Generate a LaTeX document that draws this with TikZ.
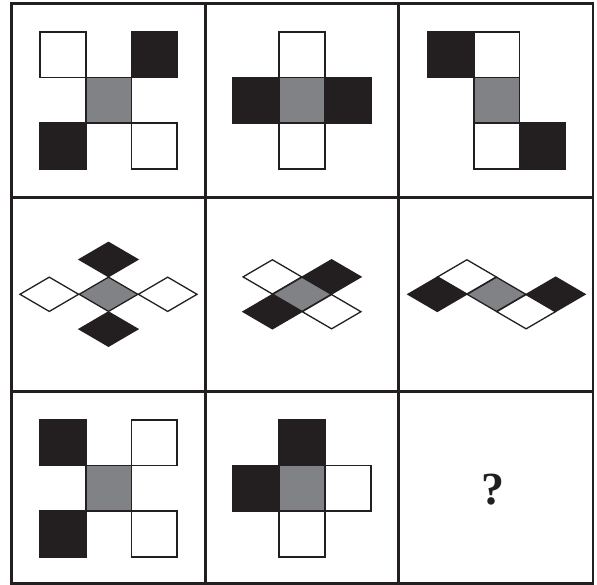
\documentclass[tikz,border=0pt]{standalone}
\usepackage{fontspec}
\setmainfont{Liberation Serif}
\usetikzlibrary{shapes.geometric}
\definecolor{inkdark}{HTML}{231F20}
\definecolor{inkgray}{HTML}{808285}
\begin{document}
\begin{tikzpicture}[x=1pt, y=-1pt,
    sq/.style={rectangle, draw=inkdark, line width=1.8pt, minimum size=45.8pt, inner sep=0pt},
    dia/.style={diamond, draw=inkdark, line width=1.3pt, minimum width=59.2pt,
                minimum height=34.8pt, inner sep=0pt},
    blk/.style={fill=inkdark}, wht/.style={fill=white}, gry/.style={fill=inkgray},
    gridline/.style={draw=inkdark, line width=2.8pt}]
  \useasboundingbox (0,0) rectangle (597,585);
  % grid
  \draw[gridline] (11.7,3.5) rectangle (593,583.5);
  \draw[gridline] (205.3,3.5) -- (205.3,583.5);
  \draw[gridline] (398.7,3.5) -- (398.7,583.5);
  \draw[gridline] (11.7,197.2) -- (593,197.2);
  \draw[gridline] (11.7,391.5) -- (593,391.5);
  % row 1
  \node[sq, wht] (a1tl) at (62.7,54.7)   {};
  \node[sq, blk] (a1tr) at (154.3,54.7)  {};
  \node[sq, gry] (a1c)  at (108.5,100.5) {};
  \node[sq, blk] (a1bl) at (62.7,146.3)  {};
  \node[sq, wht] (a1br) at (154.3,146.3) {};
  \node[sq, wht] (a2t)  at (302,54.7)    {};
  \node[sq, blk] (a2l)  at (256.2,100.5) {};
  \node[sq, gry] (a2c)  at (302,100.5)   {};
  \node[sq, blk] (a2r)  at (347.8,100.5) {};
  \node[sq, wht] (a2b)  at (302,146.3)   {};
  \node[sq, blk] (a3tl) at (450.7,54.7)  {};
  \node[sq, wht] (a3t)  at (496.5,54.7)  {};
  \node[sq, gry] (a3c)  at (496.5,100.5) {};
  \node[sq, wht] (a3b)  at (496.5,146.3) {};
  \node[sq, blk] (a3br) at (542.3,146.3) {};
  % row 2
  \node[dia, blk] (b1t) at (108.5,259.5) {};
  \node[dia, wht] (b1l) at (49.3,294.3)  {};
  \node[dia, gry] (b1c) at (108.5,294.3) {};
  \node[dia, wht] (b1r) at (167.7,294.3) {};
  \node[dia, blk] (b1b) at (108.5,329.1) {};
  \node[dia, wht] (b2ul) at (272.4,276.9) {};
  \node[dia, blk] (b2ur) at (331.6,276.9) {};
  \node[dia, gry] (b2c)  at (302,294.3)   {};
  \node[dia, blk] (b2ll) at (272.4,311.7) {};
  \node[dia, wht] (b2lr) at (331.6,311.7) {};
  \node[dia, wht] (b3ul) at (466.9,276.9) {};
  \node[dia, blk] (b3l)  at (437.3,294.3) {};
  \node[dia, gry] (b3c)  at (496.5,294.3) {};
  \node[dia, wht] (b3lr) at (526.1,311.7) {};
  \node[dia, blk] (b3r)  at (555.7,294.3) {};
  % row 3
  \node[sq, blk] (c1tl) at (62.7,442.5)  {};
  \node[sq, wht] (c1tr) at (154.3,442.5) {};
  \node[sq, gry] (c1c)  at (108.5,488.3) {};
  \node[sq, blk] (c1bl) at (62.7,534.1)  {};
  \node[sq, wht] (c1br) at (154.3,534.1) {};
  \node[sq, blk] (c2t)  at (302,442.5)   {};
  \node[sq, blk] (c2l)  at (256.2,488.3) {};
  \node[sq, gry] (c2c)  at (302,488.3)   {};
  \node[sq, wht] (c2r)  at (347.8,488.3) {};
  \node[sq, wht] (c2b)  at (302,534.1)   {};
  \node[text=inkdark, font=\fontsize{46}{46}\selectfont\bfseries] (qmark) at (493,489.7) {?};
\end{tikzpicture}
\end{document}
